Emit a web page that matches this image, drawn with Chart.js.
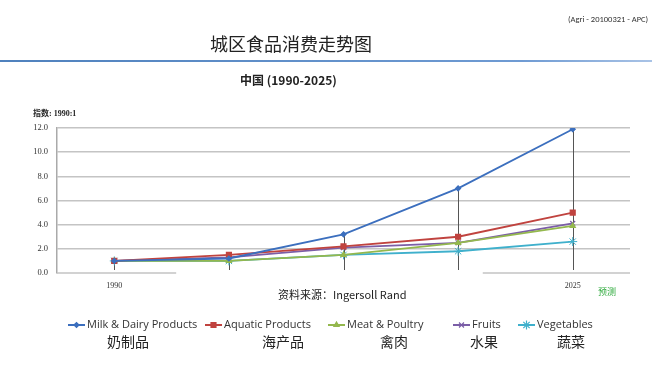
<!DOCTYPE html>
<html>
<head>
<meta charset="utf-8">
<script src="https://cdn.jsdelivr.net/npm/chart.js@4/dist/chart.umd.min.js"></script>
<style>
  body { margin: 0; background: #fff; }
  #wrap { position: relative; width: 664px; height: 376px; overflow: hidden; font-family: "Noto Sans CJK SC", "Noto Sans", sans-serif; color: #222; }
  #wrap canvas { position: absolute; left: 0; top: 0; }
  .t { position: absolute; white-space: nowrap; }
  #code { left: 568px; top: 14px; font-size: 8.5px; color: #333; font-family: Calibri, "Open Sans", sans-serif; }
  #bar { left: 0; top: 60px; width: 652px; height: 2px; background: linear-gradient(to right, #4f81bd, #6f9bd3 80%, #a9c3e6); }
  #title { left: 210px; top: 30px; font-size: 18px; }
  #sub { left: 240px; top: 71px; font-size: 12px; font-weight: bold; }
  #unit { left: 33px; top: 107px; font-size: 8px; font-weight: bold; font-family: "Liberation Serif", "Noto Sans CJK SC", serif; }
  #src { left: 278px; top: 286px; font-size: 11px; }
  #fc { left: 598px; top: 285px; font-size: 9px; color: #2eaa3c; }
  .cn { position: absolute; top: 331px; font-size: 14px; }
</style>
</head>
<body>
<div id="wrap">
  <canvas id="myChart" width="664" height="376"></canvas>
  <div class="t" id="code">(Agri - 20100321 - APC)</div>
  <div class="t" id="bar"></div>
  <div class="t" id="title">城区食品消费走势图</div>
  <div class="t" id="sub">中国 (1990-2025)</div>
  <div class="t" id="unit">指数: 1990:1</div>
  <div class="t" id="src">资料来源：Ingersoll Rand</div>
  <div class="t" id="fc">预测</div>
  <div class="cn" style="left:107px">奶制品</div>
  <div class="cn" style="left:262px">海产品</div>
  <div class="cn" style="left:380px">禽肉</div>
  <div class="cn" style="left:470px">水果</div>
  <div class="cn" style="left:557px">蔬菜</div>
</div>
<script>
// categories (only first and last are labelled in the source)
var years = ["1990", "", "", "", "2025"];

// index, 1990 = 1
var milk = [1.0, 1.2, 3.2, 7.0, 11.9];
var aquatic = [1.0, 1.5, 2.2, 3.0, 5.0];
var meat = [1.0, 1.0, 1.5, 2.5, 3.9];
var fruits = [1.0, 1.3, 2.1, 2.5, 4.1];
var vegetables = [1.0, 1.0, 1.5, 1.8, 2.6];

var names = ["Milk & Dairy Products", "Aquatic Products", "Meat & Poultry", "Fruits", "Vegetables"];
var yTicks = [0, 2, 4, 6, 8, 10, 12];

function makeSet(label, data, color, style, r) {
  return {
    label: label,
    data: data,
    borderColor: color,
    backgroundColor: color,
    borderWidth: 1.8,
    pointStyle: style,
    pointRadius: r,
    pointBorderWidth: 1.2,
    pointHoverRadius: r,
    tension: 0
  };
}

// excel style drop lines + the zero line (which is partly hidden in the source)
var dropLines = {
  id: 'dropLines',
  beforeDatasetsDraw: function(chart) {
    var ctx = chart.ctx;
    var yScale = chart.scales.y;
    var xScale = chart.scales.x;
    var area = chart.chartArea;
    var y0 = Math.round(yScale.getPixelForValue(0));
    ctx.save();
    // zero line, in two pieces like the original
    ctx.strokeStyle = '#c4c4c4';
    ctx.lineWidth = 1.5;
    var w = area.right - area.left;
    ctx.beginPath();
    ctx.moveTo(area.left, y0);
    ctx.lineTo(area.left + w * 0.208, y0);
    ctx.moveTo(area.left + w * 0.743, y0);
    ctx.lineTo(area.right, y0);
    ctx.stroke();

    ctx.strokeStyle = '#555';
    ctx.lineWidth = 1;
    for (let i = 0; i < years.length; i++) {
      let top = 0;
      chart.data.datasets.forEach(function(ds) {
        if (ds.data[i] > top) top = ds.data[i];
      });
      let x = Math.round(xScale.getPixelForValue(i)) + 0.5;
      ctx.beginPath();
      ctx.moveTo(x, yScale.getPixelForValue(top));
      ctx.lineTo(x, y0 - 3);
      ctx.stroke();
    }
    ctx.restore();
  }
};

// legend with line + marker like the original
var legendPos = [68, 205, 328, 453, 518];
var lineLegend = {
  id: 'lineLegend',
  afterDraw: function(chart) {
    var ctx = chart.ctx;
    var y = 325;
    ctx.save();
    ctx.font = '11px "Open Sans", "Noto Sans", sans-serif';
    ctx.textBaseline = 'middle';
    chart.data.datasets.forEach(function(ds, i) {
      let x = legendPos[i];
      ctx.strokeStyle = ds.borderColor;
      ctx.lineWidth = 2;
      ctx.beginPath();
      ctx.moveTo(x, y);
      ctx.lineTo(x + 17, y);
      ctx.stroke();
      ctx.fillStyle = ds.borderColor;
      ctx.lineWidth = 1.2;
      Chart.helpers.drawPoint(ctx, {
        pointStyle: ds.pointStyle,
        radius: ds.pointRadius,
        borderWidth: 1.2,
        rotation: 0
      }, x + 8.5, y);
      ctx.fillStyle = '#333';
      ctx.fillText(ds.label, x + 19, y);
    });
    ctx.restore();
  }
};

var chartData = {
  labels: years,
  datasets: [
    makeSet(names[0], milk, '#3c6fbe', 'rectRot', 2.5),
    makeSet(names[1], aquatic, '#c0433f', 'rect', 3.5),
    makeSet(names[2], meat, '#94b84e', 'triangle', 3),
    makeSet(names[3], fruits, '#7b5ea7', 'crossRot', 3.5),
    makeSet(names[4], vegetables, '#3fb0cc', 'star', 4.5)
  ]
};
chartData.datasets[4].pointBorderWidth = 1;

var chartOptions = {
  responsive: false,
  animation: false,
  layout: { padding: { left: 0, right: 34, top: 128, bottom: 83 } },
  plugins: {
    legend: { display: false },
    tooltip: { enabled: false }
  },
  scales: {
    x: {
      offset: true,
      grid: { display: false, drawTicks: false },
      border: { display: false },
      ticks: {
        padding: 8,
        autoSkip: false,
        maxRotation: 0,
        color: '#333',
        font: { size: 8, family: '"Liberation Serif", serif' }
      },
      afterFit: function(scale) { scale.height = 20; }
    },
    y: {
      min: 0,
      max: 12,
      afterBuildTicks: function(scale) {
        scale.ticks = yTicks.map(function(v) { return { value: v }; });
      },
      grid: {
        color: function(c) { return c.tick && c.tick.value === 0 ? 'rgba(0,0,0,0)' : '#c4c4c4'; },
        lineWidth: 1.5,
        drawTicks: false
      },
      border: { color: '#aaa', width: 1.5 },
      ticks: {
        padding: 9,
        color: '#333',
        font: { size: 8.5, family: '"Liberation Serif", serif' },
        callback: function(v) { return Number(v).toFixed(1); }
      },
      afterFit: function(scale) { scale.width = 57; }
    }
  }
};

var myChart = document.getElementById('myChart');
var lineChart = new Chart(myChart, {
  type: 'line',
  data: chartData,
  options: chartOptions,
  plugins: [dropLines, lineLegend]
});
</script>
</body>
</html>
